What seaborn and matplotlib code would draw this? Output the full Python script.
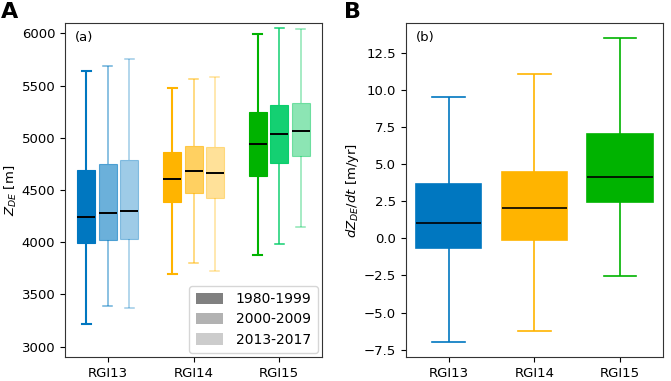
import numpy as np
import pandas as pd
import matplotlib
matplotlib.use("Agg")
import matplotlib.pyplot as plt
from matplotlib.patches import Patch
from matplotlib.ticker import MultipleLocator
import seaborn as sns

regions = ["RGI13", "RGI14", "RGI15"]
periods = ["1980-1999", "2000-2009", "2013-2017"]

# five-number summaries [whisker low, Q1, median, Q3, whisker high]
zde_rgi13 = [[3214, 3989, 4245, 4688, 5643],
             [3393, 4021, 4277, 4749, 5687],
             [3373, 4033, 4298, 4784, 5751]]
zde_rgi14 = [[3696, 4384, 4604, 4863, 5473],
             [3801, 4473, 4684, 4923, 5563],
             [3721, 4426, 4661, 4911, 5585]]
zde_rgi15 = [[3877, 4630, 4940, 5250, 5994],
             [3986, 4758, 5041, 5316, 6054],
             [4141, 4830, 5066, 5335, 6045]]
dzdt = [[-6.96, -0.66, 1.02, 3.69, 9.50],
        [-6.27, -0.10, 2.07, 4.45, 11.11],
        [-2.54, 2.43, 4.11, 7.07, 13.51]]

rows = []
for reg, summ in zip(regions, [zde_rgi13, zde_rgi14, zde_rgi15]):
    for per, s in zip(periods, summ):
        for v in s:
            rows.append((reg, per, v))
df_a = pd.DataFrame(rows, columns=["region", "period", "value"])
rows = []
for reg, s in zip(regions, dzdt):
    for v in s:
        rows.append((reg, v))
df_b = pd.DataFrame(rows, columns=["region", "value"])

plt.rcParams["font.family"] = ["DejaVu Sans"]
plt.rcParams["font.size"] = 9.5

base = {
    "RGI13": [(0.0, 0.467, 0.753), (0.0, 0.467, 0.753), (0.0, 0.467, 0.753)],
    "RGI14": [(1.0, 0.706, 0.0), (1.0, 0.706, 0.0), (1.0, 0.706, 0.0)],
    "RGI15": [(0.0, 0.70, 0.0), (0.0, 0.80, 0.40), (0.0, 0.78, 0.35)],
}
alpha_map = {
    "RGI13": [1.0, 0.58, 0.38],
    "RGI14": [1.0, 0.62, 0.40],
    "RGI15": [1.0, 0.92, 0.45],
}
legend_alphas = [1.0, 0.6, 0.4]

fig = plt.figure(figsize=(6.71, 3.81), dpi=100)
ax1 = fig.add_axes([0.0969, 0.063, 0.383, 0.8766])
ax2 = fig.add_axes([0.6046, 0.063, 0.3834, 0.8766])

sns.boxplot(data=df_a, x="region", y="value", hue="period", order=regions,
            hue_order=periods, whis=(0, 100), width=0.75, gap=0.16,
            palette=["gray"] * 3, showfliers=False, ax=ax1, legend=False,
            linewidth=1.5)
for hi, cont in enumerate(ax1.containers):
    for gi, reg in enumerate(regions):
        c = base[reg][hi]
        a = alpha_map[reg][hi]
        rgba = (*c, a)
        cont.boxes[gi].set_facecolor(rgba)
        cont.boxes[gi].set_edgecolor(rgba)
        cont.boxes[gi].set_linewidth(0.8)
        for ln in cont.whiskers[2 * gi:2 * gi + 2] + cont.caps[2 * gi:2 * gi + 2]:
            ln.set_color(rgba)
            ln.set_linewidth(1.5 if hi == 0 else 1.1)
        cont.medians[gi].set_color("black")
        cont.medians[gi].set_linewidth(1.4)

ax1.set_ylim(2900, 6100)
ax1.set_xlim(-0.5, 2.5)
ax1.set_xlabel("")
ax1.set_ylabel(r"$Z_{DE}$ [m]", labelpad=2)
ax1.text(0.04, 0.975, "(a)", transform=ax1.transAxes, ha="left", va="top")
handles = [Patch(facecolor="gray", alpha=a) for a in legend_alphas]
ax1.legend(handles, periods, loc="lower right", fontsize=10,
           handlelength=2.0, handleheight=0.9, borderpad=0.45,
           borderaxespad=0.3, labelspacing=0.45, handletextpad=0.9)

colors_b = [(0.0, 0.467, 0.753), (1.0, 0.706, 0.0), (0.0, 0.70, 0.0)]
sns.boxplot(data=df_b, x="region", y="value", hue="region", order=regions,
            hue_order=regions, whis=(0, 100), width=0.76, palette=colors_b,
            showfliers=False, ax=ax2, legend=False, dodge=False, linewidth=1.2)
for gi, cont in enumerate(ax2.containers):
    c = colors_b[gi]
    for b in cont.boxes:
        b.set_facecolor(c)
        b.set_edgecolor(c)
    for ln in cont.whiskers + cont.caps:
        ln.set_color(c)
        ln.set_linewidth(1.2)
    for m in cont.medians:
        m.set_color("black")
        m.set_linewidth(1.2)
ax2.set_xlim(-0.5, 2.5)
ax2.set_ylim(-8.0, 14.52)
ax2.yaxis.set_major_locator(MultipleLocator(2.5))
ax2.set_xlabel("")
ax2.set_ylabel(r"$dZ_{DE}/dt$ [m/yr]", labelpad=2)
ax2.text(0.04, 0.975, "(b)", transform=ax2.transAxes, ha="left", va="top")

for ax in (ax1, ax2):
    for sp in ax.spines.values():
        sp.set_color("#333333")
        sp.set_visible(True)

fig.text(0.002, 0.995, "A", fontsize=16, fontweight="bold", ha="left", va="top")
fig.text(0.512, 0.995, "B", fontsize=16, fontweight="bold", ha="left", va="top")

fig.savefig("out.png", dpi=100)
